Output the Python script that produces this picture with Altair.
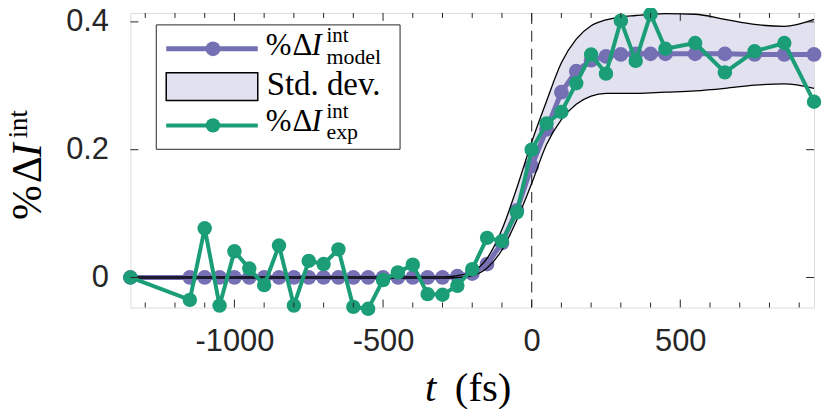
import altair as alt
import pandas as pd

# ---- data ----
t_vals = [-1350, -1150, -1100, -1050, -1000, -950, -900, -850, -800, -750, -700,
          -650, -600, -550, -500, -450, -400, -350, -300, -250, -200, -150, -100,
          -50, 0, 50, 100, 150, 200, 250, 300, 350, 400, 450, 550, 650, 750, 850, 950]

model_vals = [0, 0, 0, 0, 0, 0, 0, 0, 0, 0, 0, 0, 0, 0, 0, 0, 0, 0, 0,
              0.002, 0.006, 0.021, 0.054, 0.105, 0.174, 0.232, 0.29, 0.323, 0.34,
              0.346, 0.349, 0.35, 0.35, 0.35, 0.35, 0.35, 0.349, 0.349, 0.349]

exp_vals = [0, -0.035, 0.077, -0.044, 0.041, 0.014, -0.012, 0.05, -0.044, 0.026,
            0.021, 0.044, -0.046, -0.049, -0.004, 0.008, 0.02, -0.026, -0.027,
            -0.013, 0.013, 0.062, 0.057, 0.102, 0.2, 0.241, 0.259, 0.304, 0.349,
            0.319, 0.402, 0.339, 0.412, 0.358, 0.367, 0.321, 0.354, 0.367, 0.275]

upper_vals = [0.001] * 19 + [0.003, 0.009, 0.03, 0.075, 0.14, 0.212, 0.276, 0.336,
                             0.373, 0.394, 0.403, 0.408, 0.41, 0.412, 0.413, 0.412,
                             0.404, 0.396, 0.393, 0.404]
lower_vals = [-0.001] * 19 + [0.0, 0.003, 0.015, 0.043, 0.09, 0.147, 0.208, 0.247,
                              0.271, 0.284, 0.288, 0.288, 0.288, 0.289, 0.29, 0.292,
                              0.296, 0.301, 0.303, 0.296]

x_major_ticks = [-1000, -500, 0, 500]
x_minor_ticks = [-1300, -1200, -1100, -900, -800, -700, -600, -400, -300, -200,
                 -100, 100, 200, 300, 400, 600, 700, 800, 900]
y_ticks = [0, 0.2, 0.4]

# ---- styles ----
PURPLE = "#7570b3"
GREEN = "#1b9e77"
BAND = "#e1e1f0"
INK = "#262626"
SERIF = "Liberation Serif"
SANS = "Liberation Sans"
W, H = 687, 296

df = pd.DataFrame({"t": t_vals, "model": model_vals, "exp": exp_vals,
                   "upper": upper_vals, "lower": lower_vals})

xs = alt.Scale(domain=[-1350, 950], nice=False, zero=False)
ys = alt.Scale(domain=[-0.047, 0.414], nice=False, zero=False)

xaxis = alt.Axis(values=x_major_ticks, labelExpr="'' + datum.value", ticks=False,
                 domain=False, grid=False, labelFont=SANS, labelFontSize=31,
                 labelColor=INK, labelPadding=19, labelFlush=False, labelOverlap=False)
yaxis = alt.Axis(values=y_ticks,
                 labelExpr="datum.value == 0 ? '0' : format(datum.value, '.1f')",
                 ticks=False, domain=False, grid=False, labelFont=SANS,
                 labelFontSize=31, labelColor=INK, labelPadding=22,
                 labelFlush=False, labelOverlap=False)


def X(field):
    return alt.X(f"{field}:Q", scale=xs, axis=xaxis, title=None)


def Y(field):
    return alt.Y(f"{field}:Q", scale=ys, axis=yaxis, title=None)


base = alt.Chart(df)

band = base.mark_area(color=BAND, opacity=1, interpolate="monotone").encode(
    x=X("t"), y=Y("lower"), y2="upper:Q")

zero_df = pd.DataFrame({"t": [0]})
vline = alt.Chart(zero_df).mark_rule(color="#404040", strokeWidth=1.2,
                                     strokeDash=[11, 7]).encode(x=X("t"))

model_line = base.mark_line(color=PURPLE, strokeWidth=5).encode(x=X("t"), y=Y("model"))
model_pts = base.mark_circle(color=PURPLE, size=220, opacity=1).encode(x=X("t"), y=Y("model"))

up_line = base.mark_line(color="black", strokeWidth=1.3, interpolate="monotone").encode(
    x=X("t"), y=Y("upper"))
lo_line = base.mark_line(color="black", strokeWidth=1.3, interpolate="monotone").encode(
    x=X("t"), y=Y("lower"))

exp_line = base.mark_line(color=GREEN, strokeWidth=4).encode(x=X("t"), y=Y("exp"))
exp_pts = base.mark_circle(color=GREEN, size=210, opacity=1).encode(x=X("t"), y=Y("exp"))

# ---- inward ticks (box axes) ----
maj_df = pd.DataFrame({"t": x_major_ticks})
min_df = pd.DataFrame({"t": x_minor_ticks})
yt_df = pd.DataFrame({"v": y_ticks})
tick_style = dict(color=INK, strokeWidth=1)
ticks = [
    alt.Chart(maj_df).mark_rule(**tick_style).encode(x=X("t"), y=alt.value(H), y2=alt.value(H - 8)),
    alt.Chart(maj_df).mark_rule(**tick_style).encode(x=X("t"), y=alt.value(0), y2=alt.value(8)),
    alt.Chart(min_df).mark_rule(**tick_style).encode(x=X("t"), y=alt.value(H), y2=alt.value(H - 5)),
    alt.Chart(min_df).mark_rule(**tick_style).encode(x=X("t"), y=alt.value(0), y2=alt.value(5)),
    alt.Chart(yt_df).mark_rule(**tick_style).encode(y=Y("v"), x=alt.value(0), x2=alt.value(8)),
    alt.Chart(yt_df).mark_rule(**tick_style).encode(y=Y("v"), x=alt.value(W), x2=alt.value(W - 8)),
]

one = pd.DataFrame({"a": [0]})


def txt(s, x, y, size, italic=False, angle=0, font=SERIF):
    kw = dict(align="left", baseline="alphabetic", font=font, fontSize=size, color="black")
    if italic:
        kw["fontStyle"] = "italic"
    if angle:
        kw["angle"] = angle
    return alt.Chart(one).mark_text(**kw).encode(
        x=alt.value(x), y=alt.value(y), text=alt.value(s))


# ---- legend (drawn by hand for the sub/superscripts) ----
legend = [
    alt.Chart(one).mark_rect(fill="white", stroke=INK, strokeWidth=1).encode(
        x=alt.value(26), x2=alt.value(271), y=alt.value(12), y2=alt.value(137)),
    alt.Chart(one).mark_rule(color=PURPLE, strokeWidth=5).encode(
        x=alt.value(36), x2=alt.value(128), y=alt.value(36)),
    alt.Chart(one).mark_circle(color=PURPLE, size=220, opacity=1).encode(
        x=alt.value(83), y=alt.value(36)),
    alt.Chart(one).mark_rect(fill=BAND, stroke="black", strokeWidth=1.5).encode(
        x=alt.value(36), x2=alt.value(128), y=alt.value(60), y2=alt.value(88)),
    alt.Chart(one).mark_rule(color=GREEN, strokeWidth=4).encode(
        x=alt.value(36), x2=alt.value(128), y=alt.value(113)),
    alt.Chart(one).mark_circle(color=GREEN, size=210, opacity=1).encode(
        x=alt.value(83), y=alt.value(113)),
    txt("%", 136, 42, 31), txt("Δ", 163, 42, 31), txt("I", 182, 42, 31, italic=True),
    txt("int", 197, 29, 21), txt("model", 197, 51, 22),
    txt("Std. dev.", 137, 82, 33),
    txt("%", 136, 119, 31), txt("Δ", 163, 119, 31), txt("I", 182, 119, 31, italic=True),
    txt("int", 197, 106, 21), txt("exp", 197, 127, 22),
]

# ---- axis titles ----
titles = [
    txt("%", -90, 208, 42, angle=270), txt("Δ", -90, 171, 42, angle=270),
    txt("I", -90, 145, 42, italic=True, angle=270),
    txt("int", -104, 126, 27, angle=270),
    txt("t", 296, 390, 41, italic=True), txt("(fs)", 326, 390, 41),
]

chart = alt.layer(
    band, vline, model_line, model_pts, up_line, lo_line, exp_line, exp_pts,
    *ticks, *legend, *titles
).properties(
    width=W, height=H,
    autosize=alt.AutoSizeParams(type="none"),
    padding={"left": 123, "top": 4, "right": 8, "bottom": 101},
).configure_view(
    stroke=INK, strokeWidth=1
).configure(background="white")

chart.save("out.html", embed_options={"renderer": "svg", "actions": False})
